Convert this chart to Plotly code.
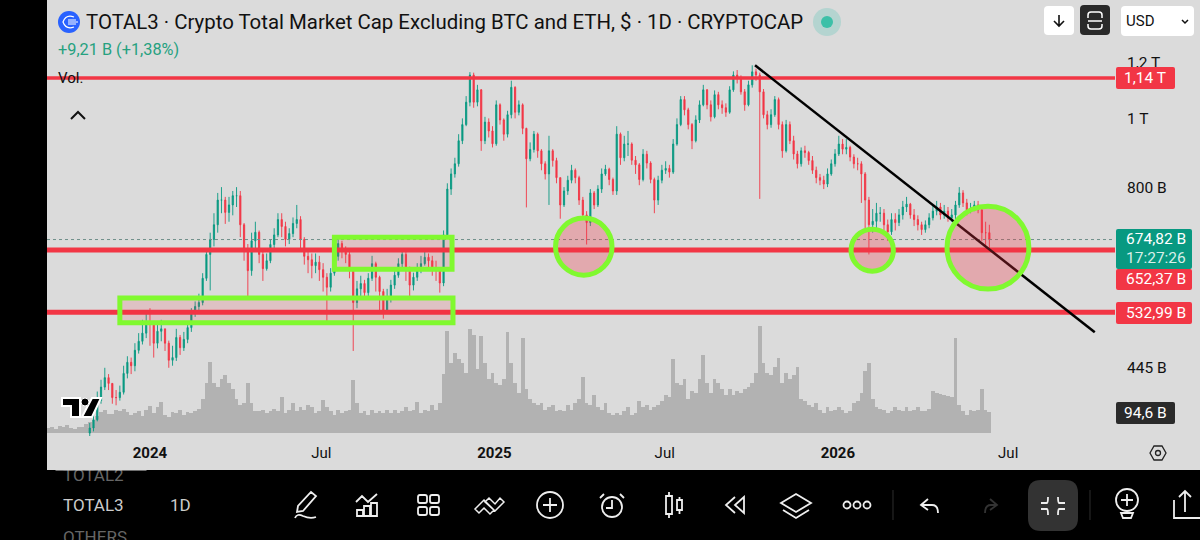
import re
import pandas as pd
import plotly.graph_objects as go

# дані: ціна в млрд $, крок 4 дні
closes = [366, 376, 400, 418, 431, 423, 404, 404, 411, 437,
          453, 448, 471, 485, 498, 517, 512, 482, 501, 505,
          482, 456, 460, 491, 475, 488, 507, 533, 543, 550,
          595, 643, 675, 708, 767, 767, 737, 755, 778, 778,
          708, 654, 610, 672, 691, 643, 614, 630, 664, 685,
          720, 704, 675, 688, 711, 720, 675, 639, 632, 620,
          627, 612, 597, 578, 605, 639, 666, 654, 643, 614,
          550, 575, 585, 568, 595, 624, 597, 570, 536, 556,
          582, 601, 624, 643, 614, 582, 597, 614, 624, 637,
          630, 614, 610, 586, 685, 795, 835, 863, 930, 980,
          1054, 1151, 1054, 1097, 930, 988, 960, 921, 1045, 995,
          950, 1012, 1106, 1020, 1045, 968, 877, 904, 950, 900,
          863, 835, 900, 872, 825, 755, 790, 818, 845, 825,
          767, 731, 713, 785, 755, 795, 835, 848, 820, 790,
          950, 880, 920, 920, 873, 860, 820, 890, 865, 820,
          767, 818, 845, 850, 840, 920, 980, 1063, 1028, 980,
          930, 995, 1045, 1097, 1045, 1005, 1080, 1045, 1035, 1020,
          1097, 1151, 1140, 1090, 1045, 1115, 1163, 1151, 1090, 1012,
          980, 1012, 1063, 980, 900, 980, 930, 891, 863, 900,
          895, 872, 845, 825, 818, 808, 835, 863, 891, 920,
          905, 910, 882, 863, 863, 835, 767, 708, 716, 735,
          735, 708, 692, 720, 713, 731, 750, 757, 731, 720,
          708, 697, 708, 724, 740, 750, 731, 740, 724, 731,
          755, 785, 760, 743, 745, 755, 743, 690, 690, 674.82]
highs = [372, 384, 412, 428, 445, 436, 420, 414, 420, 448,
         462, 460, 482, 498, 520, 535, 540, 500, 518, 520,
         505, 486, 478, 505, 495, 500, 516, 540, 552, 566,
         605, 655, 690, 735, 785, 800, 775, 775, 790, 800,
         790, 712, 665, 690, 715, 695, 650, 645, 675, 700,
         735, 735, 715, 700, 725, 755, 728, 680, 650, 645,
         645, 640, 625, 605, 615, 650, 680, 672, 660, 650,
         615, 590, 600, 592, 605, 640, 628, 600, 575, 575,
         592, 610, 635, 655, 650, 618, 606, 625, 640, 650,
         645, 640, 630, 615, 695, 810, 850, 880, 950, 1000,
         1075, 1162, 1160, 1115, 1100, 1005, 1000, 975, 1060, 1050,
         1000, 1025, 1130, 1110, 1060, 1050, 970, 925, 960, 955,
         905, 870, 945, 905, 880, 825, 800, 830, 860, 850,
         830, 775, 740, 795, 790, 805, 850, 860, 852, 825,
         975, 955, 945, 960, 925, 885, 865, 905, 900, 870,
         825, 830, 860, 870, 860, 935, 1000, 1075, 1075, 1035,
         985, 1010, 1060, 1115, 1100, 1060, 1095, 1090, 1060, 1050,
         1110, 1165, 1170, 1150, 1100, 1130, 1188, 1175, 1160, 1100,
         1025, 1030, 1075, 1070, 990, 995, 990, 945, 900, 910,
         915, 900, 885, 855, 835, 830, 850, 875, 905, 945,
         935, 935, 915, 890, 880, 870, 840, 775, 745, 760,
         750, 745, 720, 735, 735, 745, 765, 775, 760, 745,
         730, 715, 718, 735, 755, 765, 760, 755, 750, 745,
         765, 800, 792, 770, 760, 765, 765, 748, 715, 708]
lows = [356, 362, 374, 396, 414, 414, 396, 394, 400, 408,
        430, 436, 440, 466, 480, 490, 478, 460, 474, 485,
        470, 445, 448, 455, 464, 470, 482, 500, 525, 530,
        545, 590, 572, 660, 690, 735, 710, 715, 730, 750,
        680, 630, 561, 600, 650, 625, 590, 610, 625, 650,
        680, 680, 660, 665, 680, 700, 655, 622, 605, 595,
        605, 590, 570, 517, 570, 600, 630, 635, 625, 595,
        470, 540, 560, 555, 560, 590, 570, 535, 522, 532,
        550, 575, 596, 615, 590, 560, 572, 590, 605, 620,
        612, 600, 590, 568, 580, 680, 780, 825, 855, 920,
        975, 1040, 1035, 1040, 900, 920, 940, 910, 915, 980,
        930, 940, 1000, 1000, 1010, 950, 749, 870, 895, 880,
        845, 820, 755, 855, 810, 722, 750, 780, 810, 810,
        755, 720, 664, 705, 745, 750, 785, 830, 805, 780,
        780, 860, 870, 885, 860, 835, 805, 815, 850, 810,
        735, 755, 810, 835, 825, 835, 915, 975, 1010, 965,
        905, 925, 985, 1040, 1030, 990, 1000, 1030, 1015, 1005,
        1015, 1090, 1120, 1080, 1025, 1040, 1105, 1130, 770, 1000,
        965, 970, 1005, 965, 880, 895, 920, 875, 850, 855,
        880, 860, 835, 810, 805, 795, 800, 830, 855, 885,
        890, 890, 870, 850, 845, 760, 700, 643, 690, 700,
        715, 695, 672, 685, 695, 705, 720, 738, 722, 705,
        695, 685, 690, 700, 718, 730, 720, 722, 715, 715,
        720, 748, 750, 730, 735, 740, 735, 672, 660, 652]
volumes = [23, 27, 18, 32, 27, 36, 23, 18, 27, 27, 40,
           50, 60, 75, 95, 105, 85, 85, 105, 100, 110,
           95, 80, 90, 100, 75, 105, 120, 90, 115, 140,
           80, 70, 95, 90, 105, 80, 95, 90, 100, 110,
           155, 225, 320, 225, 205, 245, 260, 225, 200, 155,
           125, 135, 225, 135, 100, 100, 105, 90, 100, 110,
           100, 160, 90, 105, 135, 100, 115, 105, 125, 115,
           90, 100, 150, 115, 100, 80, 105, 90, 100, 105,
           240, 135, 90, 100, 80, 105, 90, 100, 90, 105,
           90, 105, 90, 100, 115, 100, 105, 140, 90, 105,
           100, 125, 105, 135, 265, 460, 315, 360, 335, 315,
           270, 470, 440, 290, 435, 315, 245, 270, 225, 215,
           245, 455, 315, 225, 180, 430, 200, 155, 135, 125,
           135, 105, 115, 125, 100, 105, 100, 125, 105, 135,
           155, 250, 135, 125, 170, 115, 105, 135, 90, 80,
           90, 80, 100, 115, 80, 90, 145, 115, 125, 105,
           115, 125, 145, 170, 160, 335, 225, 215, 245, 155,
           190, 180, 245, 350, 225, 180, 245, 225, 200, 170,
           200, 170, 190, 180, 200, 205, 225, 270, 480, 315,
           270, 260, 295, 340, 225, 270, 245, 260, 295, 155,
           145, 125, 115, 135, 105, 90, 115, 100, 105, 115,
           105, 90, 100, 135, 145, 180, 280, 315, 155, 115,
           110, 105, 90, 100, 115, 105, 100, 115, 100, 105,
           115, 100, 100, 110, 190, 180, 175, 170, 165, 160,
           430, 125, 100, 80, 105, 100, 105, 200, 105, 94.6]

assert len(closes) == len(highs) == len(lows) == 240 and len(volumes) == 251

opens = [360] + closes[:-1]
dates = pd.date_range("2023-10-29", periods=len(closes), freq="4D")
vol_dates = pd.date_range("2023-09-15", periods=len(volumes), freq="4D")

x_range = ["2023-09-13 14:00", "2026-10-22 12:00"]
y_range = [2.5522, 3.1669]

levels = [1140, 652.37, 532.99]
last_price = 674.82
trend_x = ["2025-10-05", "2026-10-01"]
trend_y = [1188, 499.5]

tick_dates = ["2024-01-01", "2024-07-01", "2025-01-01", "2025-07-01", "2026-01-01", "2026-07-01"]
tick_names = ["<b>2024</b>", "Jul", "<b>2025</b>", "Jul", "<b>2026</b>", "Jul"]
price_ticks = [445, 800, 1000, 1200]
price_names = ["445 B", "800 B", "1 T", "1,2 T"]

RED = "#f23645"
TEAL = "#089981"
GREEN = "#80f92f"
GREY = "#dbdbdb"
FONT = "Roboto"


# піксельні координати -> частки області графіка
def px(x):
    return (x - 47) / 1068


def py(y):
    return 1 - y / 436


def pth(s):
    return re.sub(r"(-?[\d.]+),(-?[\d.]+)", lambda m: f"{px(float(m[1])):.5f},{py(float(m[2])):.5f}", s)


def rrect(x0, y0, x1, y1, r):
    return (f"M{x0 + r},{y0} L{x1 - r},{y0} Q{x1},{y0} {x1},{y0 + r} L{x1},{y1 - r} Q{x1},{y1} {x1 - r},{y1} "
            f"L{x0 + r},{y1} Q{x0},{y1} {x0},{y1 - r} L{x0},{y0 + r} Q{x0},{y0} {x0 + r},{y0} Z")


fig = go.Figure()

# об'єм і свічки
fig.add_trace(go.Bar(x=vol_dates, y=volumes, marker=dict(color="#b2b2b2", line_width=0), yaxis="y", hoverinfo="skip"))
fig.add_trace(go.Candlestick(x=dates, open=opens, high=highs, low=lows, close=closes, yaxis="y2",
                             increasing=dict(line=dict(color=TEAL, width=0.9), fillcolor=TEAL),
                             decreasing=dict(line=dict(color=RED, width=0.9), fillcolor=RED),
                             whiskerwidth=0, hoverinfo="skip"))

# рівні, поточна ціна і лінія тренду
fig.add_trace(go.Scatter(x=x_range, y=[last_price, last_price], mode="lines", yaxis="y2", hoverinfo="skip",
                         line=dict(color="#6f8f8a", width=1, dash="dot")))
for level, w in zip(levels, [3.5, 5, 5]):
    fig.add_trace(go.Scatter(x=x_range, y=[level, level], mode="lines", yaxis="y2", hoverinfo="skip",
                             line=dict(color=RED, width=w)))
fig.add_trace(go.Scatter(x=trend_x, y=trend_y, mode="lines", yaxis="y2", hoverinfo="skip",
                         line=dict(color="#000000", width=2.5)))

shapes = []


def add_path(s, color="#eeeeee", width=1.8, fill=None, layer="above"):
    shapes.append(dict(type="path", xref="paper", yref="paper", path=pth(s), layer=layer,
                       line=dict(color=color, width=width), fillcolor=fill or "rgba(0,0,0,0)"))


def add_circle(cx, cy, r, color="#eeeeee", width=1.8, fill=None):
    shapes.append(dict(type="circle", xref="paper", yref="paper", x0=px(cx - r), x1=px(cx + r),
                       y0=py(cy + r), y1=py(cy - r), line=dict(color=color, width=width),
                       fillcolor=fill or "rgba(0,0,0,0)"))


# сіра панель графіка
add_path("M47,0 L1200,0 L1200,470 L47,470 Z", color=GREY, width=0, fill=GREY, layer="below")

# зелені зони на графіку
for x0, x1, y0, y1 in [("2024-07-15", "2024-11-17", 613, 680), ("2023-11-30", "2024-11-18", 515, 558)]:
    shapes.append(dict(type="rect", xref="x", yref="y2", x0=x0, x1=x1, y0=y0, y1=y1,
                       line=dict(color=GREEN, width=5), fillcolor="rgba(242,54,69,0.15)"))
for x0, x1, y0, y1 in [("2025-03-07", "2025-05-06", 601, 723.5), ("2026-01-15", "2026-03-01", 609, 698),
                       ("2026-04-27", "2026-07-23", 574.5, 752)]:
    shapes.append(dict(type="circle", xref="x", yref="y2", x0=x0, x1=x1, y0=y0, y1=y1,
                       line=dict(color=GREEN, width=5), fillcolor="rgba(242,54,69,0.3)"))

# мітки цін справа
for y0, y1, x1, col in [(67, 89, 1175, RED), (229, 269, 1192, TEAL), (269, 290, 1192, RED),
                        (302, 324, 1192, RED), (402, 424, 1175, "#2a2a2a")]:
    add_path(rrect(1116, y0, x1, y1, 2), color=col, width=0, fill=col)

# логотип і індикатор у заголовку
add_circle(69, 22, 11, color="#2962ff", width=0, fill="#2962ff")
add_path("M74,17 Q66,14 63,22 Q66,30 74,27 M68,20 L76,20 M68,22 L78,22 M68,24 L76,24", color="#ffffff", width=1.2)
add_circle(827, 22, 14, color="#b4d4d0", width=0, fill="#b4d4d0")
add_circle(827, 22, 6, color="#3cc0a8", width=0, fill="#3cc0a8")
add_path("M71,119 L78,112 L85,119", color="#111111", width=2)

# кнопки вгорі справа
add_path(rrect(1044, 6, 1074, 35, 4), color="#ffffff", width=0, fill="#ffffff")
add_path("M1059,15 L1059,26 M1054,21 L1059,26 L1064,21", color="#111111", width=1.6)
add_path(rrect(1080, 5, 1110, 35, 4), color="#2a2a2a", width=0, fill="#2a2a2a")
add_path("M1088,18 L1088,15 Q1088,12 1091,12 L1099,12 Q1102,12 1102,15 L1102,18 M1088,21 L1102,21 "
         "M1088,24 L1088,26 Q1088,29 1091,29 L1099,29 Q1102,29 1102,26 L1102,24", color="#ffffff", width=1.5)
add_path(rrect(1121, 6, 1194, 36, 4), color="#ffffff", width=0, fill="#ffffff")
add_path("M1182,20 L1185,23 L1188,20", color="#111111", width=1.5)

# шестикутник налаштувань
add_path("M1150,453 L1154,446 L1162,446 L1166,453 L1162,460 L1154,460 Z", color="#222222", width=1.3)
add_circle(1158, 453, 2.5, color="#222222", width=1.3)

# логотип TradingView
add_path("M62,398 L80,398 L80,417 L71,417 L71,406 L62,406 Z", color="#ffffff", width=2, fill="#000000")
add_path("M92,398 L101,398 L92,417 L82,417 Z", color="#ffffff", width=2, fill="#000000")
add_circle(85, 402, 4, color="#ffffff", width=1, fill="#000000")

# нижня панель інструментів
add_path("M311,492 L316,496 L303,511 L297,512 L298,506 Z M295,518 Q297,513 303,516 Q310,519 316,517")
add_path("M356,502 L362,496 L368,502 L377,494 M357,516 L357,510 L363,510 L363,516 Z "
         "M364,516 L364,506 L370,506 L370,516 Z M371,516 L371,503 L377,503 L377,516 Z")
for gx, gy in [(418, 495), (430, 495), (418, 507), (430, 507)]:
    add_path(rrect(gx, gy, gx + 9, gy + 8, 2))
add_path("M475,509 L484,500 L494,510 L490,514 L484,508 L479,513 Z M489,498 L495,504 L500,498 L504,502 L495,511 L485,502 Z",
         width=1.5)
add_circle(550, 505, 13)
add_path("M543,505 L557,505 M550,498 L550,512")
add_circle(612, 507, 10)
add_path("M612,500 L612,508 L606,508 M600,498 L604,494 M624,498 L620,494")
add_path("M666,496 L672,496 L672,514 L666,514 Z M669,492 L669,496 M669,514 L669,518 "
         "M677,500 L682,500 L682,510 L677,510 Z M679.5,497 L679.5,500 M679.5,510 L679.5,514")
add_path("M735,497 L726,505 L735,513 M744,497 L735,505 L744,513 Z")
add_path("M796,494 L811,503 L796,512 L781,503 Z M783,510 L796,518 L809,510")
for cx in [847, 857, 867]:
    add_circle(cx, 505, 3.5)
add_path("M893,490 L893,520", color="#2e2e2e", width=1)
add_path("M928,499 L921,505 L928,510 M921,505 L932,505 Q938,505 938,513")
add_path("M990,499 L997,505 L990,510 M997,505 L991,505 Q985,505 985,513", color="#333333")
add_path(rrect(1028, 480, 1078, 531, 13), color="#333333", width=0, fill="#333333")
add_path("M1041,503 L1047,503 Q1048,503 1048,497 M1065,503 L1059,503 Q1058,503 1058,497 "
         "M1041,509 L1047,509 Q1048,509 1048,515 M1065,509 L1059,509 Q1058,509 1058,515")
add_path("M1090,490 L1090,520", color="#2e2e2e", width=1)
add_circle(1127, 500, 11)
add_path("M1121,500 L1133,500 M1127,494 L1127,506 M1121,513 L1133,513 L1131,518 L1123,518 Z")
add_path("M1174,500 L1174,518 L1200,518 M1185,512 L1185,491 M1179,497 L1185,491 L1191,497")


# підписи
def label(x, y, text, size=15, color="#111111", anchor="left", **kw):
    return dict(xref="paper", yref="paper", x=px(x), y=py(y), text=text, showarrow=False, xanchor=anchor,
                yanchor="middle", font=dict(family=FONT, size=size, color=color), **kw)


annotations = [
    label(84, 22, "TOTAL3 · Crypto Total Market Cap Excluding BTC and ETH, $ · 1D · CRYPTOCAP", size=20.4),
    label(56, 50, "+9,21 B (+1,38%)", size=16.3, color="#26a17f"),
    label(56, 78, "Vol.", size=15),
    label(1124, 21, "USD", size=15),
    label(1145, 78, "1,14 T", size=15.5, color="#ffffff", anchor="center"),
    label(1156, 239, "674,82 B", size=15.5, color="#ffffff", anchor="center"),
    label(1156, 258, "17:27:26", size=15.5, color="#d8efe9", anchor="center"),
    label(1156, 279, "652,37 B", size=15.5, color="#ffffff", anchor="center"),
    label(1156, 313, "532,99 B", size=15.5, color="#ffffff", anchor="center"),
    label(1145, 413, "94,6 B", size=15.5, color="#ffffff", anchor="center"),
    label(61, 475, "TOTAL2", size=17, color="#666666"),
    label(55, 465, "&nbsp;", size=10, bgcolor=GREY, width=90, height=10, borderpad=0),
    label(61, 505, "TOTAL3", size=17, color="#cccccc"),
    label(168, 505, "1D", size=17, color="#cccccc"),
    label(61, 537, "OTHERS", size=17, color="#666666"),
]

fig.update_layout(
    width=1200, height=540, showlegend=False,
    margin=dict(l=47, r=85, t=0, b=104, pad=0, autoexpand=False),
    paper_bgcolor="#000000", plot_bgcolor="rgba(0,0,0,0)",
    bargap=0, boxgap=0.55,
    font=dict(family=FONT, color="#111111"),
    xaxis=dict(range=x_range, type="date", rangeslider_visible=False, showgrid=False, zeroline=False,
               tickmode="array", tickvals=tick_dates, ticktext=tick_names, ticks="", showline=False,
               ticklabelstandoff=9, tickfont=dict(size=15, family=FONT, color="#111111")),
    yaxis=dict(domain=[3 / 436, 1], range=[0, 1950], visible=False, fixedrange=True),
    yaxis2=dict(domain=[0, 1], anchor="x", side="right", type="log", range=y_range, showgrid=False, zeroline=False,
                tickmode="array", tickvals=price_ticks, ticktext=price_names, ticks="", showline=False,
                ticklabelstandoff=11, tickfont=dict(size=15.5, family=FONT, color="#111111")),
    shapes=shapes, annotations=annotations,
)

fig.write_html("out.html", config={"displayModeBar": False}, post_script="document.body.style.margin='0';")
